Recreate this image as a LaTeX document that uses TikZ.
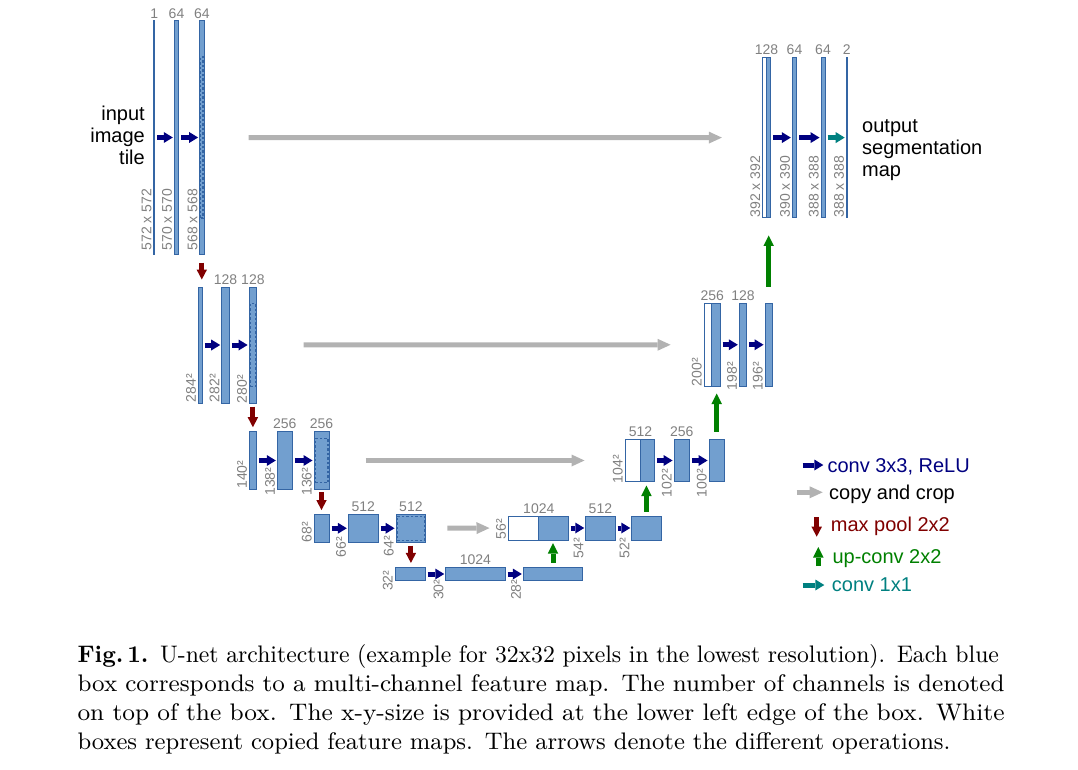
\documentclass[tikz,border=0pt]{standalone}
\usepackage{graphicx}
\usepackage{fontspec}
\newfontfamily\diagfont{Liberation Sans}
\usetikzlibrary{arrows.meta}
\definecolor{ufill}{RGB}{114,159,207}
\definecolor{uedge}{RGB}{52,101,164}
\definecolor{unavy}{RGB}{0,0,128}
\definecolor{ugrey}{RGB}{178,178,178}
\definecolor{ured}{RGB}{128,0,0}
\definecolor{ugreen}{RGB}{0,128,0}
\definecolor{uteal}{RGB}{0,128,128}
\definecolor{ulabel}{RGB}{128,128,128}

\begin{document}
\begin{tikzpicture}[x=1pt,y=-1pt,
  fmap/.style={rectangle,draw=uedge,fill=ufill,line width=1pt,inner sep=0pt},
  copied/.style={fmap,fill=white},
  cropbox/.style={rectangle,draw=uedge,line width=1.2pt,dash pattern=on 2.5pt off 2pt,inner sep=0pt},
  chan/.style={text=ulabel,font=\diagfont\fontsize{14}{14}\selectfont,anchor=south,inner sep=2pt},
  xysize/.style={rotate=90,anchor=south west,text=ulabel,font=\diagfont\fontsize{14}{14}\selectfont,inner xsep=0pt,inner ysep=1.5pt},
  bigtext/.style={font=\diagfont\fontsize{20}{22}\selectfont,inner sep=0pt},
  convarrow/.style={unavy,line width=5pt,-{Triangle[width=11pt,length=9pt,line width=0pt]},shorten <=2pt,shorten >=1pt},
  outarrow/.style={convarrow,uteal},
  copyarrow/.style={ugrey,line width=5pt,-{Triangle[width=12pt,length=13pt,line width=0pt]}},
  poolarrow/.style={ured,line width=5pt,-{Triangle[width=10.5pt,length=10pt,line width=0pt]},shorten <=3pt,shorten >=4pt},
  uparrow/.style={ugreen,line width=5pt,-{Triangle[width=10.5pt,length=10.5pt,line width=0pt]}},
  figcaption/.style={anchor=north west,inner sep=0pt,scale=2.66,transform shape,text width=348.5pt,font=\fontsize{9}{10.9}\selectfont}]
  \useasboundingbox (0,0) rectangle (1078,770);
  % contracting path
  \node[fmap,minimum width=1,minimum height=233] (a1) at (154.2,137.5) {};
  \node[fmap,minimum width=4.4,minimum height=233] (a2) at (176.5,137.5) {};
  \node[fmap,minimum width=4.4,minimum height=233] (a3) at (201.8,137.5) {};
  \node[cropbox,minimum width=2.4,minimum height=161] (a3c) at (a3) {};
  \node[fmap,minimum width=4,minimum height=116] (b1) at (200.3,345) {};
  \node[fmap,minimum width=7.6,minimum height=116] (b2) at (225.5,345) {};
  \node[fmap,minimum width=7.6,minimum height=116] (b3) at (252.9,345) {};
  \node[cropbox,minimum width=5.6,minimum height=83] (b3c) at (b3) {};
  \node[fmap,minimum width=7.4,minimum height=57.6] (c1) at (253,460.5) {};
  \node[fmap,minimum width=15,minimum height=57.6] (c2) at (284.8,460.5) {};
  \node[fmap,minimum width=15,minimum height=57.6] (c3) at (321.5,460.5) {};
  \node[cropbox,minimum width=13,minimum height=44] (c3c) at (c3) {};
  \node[fmap,minimum width=15,minimum height=27.5] (d1) at (321.5,528.25) {};
  \node[fmap,minimum width=30,minimum height=27.5] (d2) at (363.3,528.25) {};
  \node[fmap,minimum width=29.7,minimum height=27.5] (d3) at (410.9,528.25) {};
  \node[cropbox,minimum width=27.7,minimum height=24] (d3c) at (d3) {};
  % bottom
  \node[fmap,minimum width=30,minimum height=13.2] (e1) at (410,574) {};
  \node[fmap,minimum width=59.3,minimum height=13.2] (e2) at (475.4,574) {};
  \node[fmap,minimum width=59.4,minimum height=13.2] (e3) at (553,574) {};
  % expansive path
  \node[copied,minimum width=30,minimum height=24] (f0) at (523.3,528) {};
  \node[fmap,minimum width=30,minimum height=24] (f1) at (553.3,528) {};
  \node[fmap,minimum width=29.3,minimum height=24] (f2) at (600.4,528) {};
  \node[fmap,minimum width=29.3,minimum height=24] (f3) at (646.4,528) {};
  \node[copied,minimum width=15,minimum height=42.4] (g0) at (632.5,460.5) {};
  \node[fmap,minimum width=14.3,minimum height=42.4] (g1) at (647.15,460.5) {};
  \node[fmap,minimum width=15.3,minimum height=42.4] (g2) at (681.7,460.5) {};
  \node[fmap,minimum width=15.3,minimum height=42.4] (g3) at (716.7,460.5) {};
  \node[copied,minimum width=7.7,minimum height=82.5] (h0) at (707.9,344.75) {};
  \node[fmap,minimum width=8.3,minimum height=82.5] (h1) at (715.9,344.75) {};
  \node[fmap,minimum width=7.4,minimum height=82.5] (h2) at (743,344.75) {};
  \node[fmap,minimum width=7.3,minimum height=82.5] (h3) at (768.7,344.75) {};
  \node[copied,minimum width=3.7,minimum height=160.7] (i0) at (764.2,137.6) {};
  \node[fmap,minimum width=4.7,minimum height=160.7] (i1) at (768.4,137.6) {};
  \node[fmap,minimum width=4.4,minimum height=160.7] (i2) at (794.5,137.6) {};
  \node[fmap,minimum width=4,minimum height=160.7] (i3) at (823,137.6) {};
  \node[fmap,minimum width=1,minimum height=160.7] (i4) at (846.7,137.6) {};
  % channels
  \node[chan] (a1ch) at (a1.north) {1}; \node[chan] (a2ch) at (a2.north) {64}; \node[chan] (a3ch) at (a3.north) {64};
  \node[chan] (b2ch) at (b2.north) {128}; \node[chan] (b3ch) at (b3.north) {128};
  \node[chan] (c2ch) at (c2.north) {256}; \node[chan] (c3ch) at (c3.north) {256};
  \node[chan] (d2ch) at (d2.north) {512}; \node[chan] (d3ch) at (d3.north) {512};
  \node[chan] (e2ch) at (e2.north) {1024};
  \node[chan] (f1ch) at (f0.north east) {1024}; \node[chan] (f2ch) at (f2.north) {512};
  \node[chan] (g1ch) at (g0.north east) {512}; \node[chan] (g2ch) at (g2.north) {256};
  \node[chan] (h1ch) at (h0.north east) {256}; \node[chan] (h2ch) at (h2.north) {128};
  \node[chan] (i1ch) at (i0.north east) {128}; \node[chan] (i2ch) at (i2.north) {64};
  \node[chan] (i3ch) at (i3.north) {64}; \node[chan] (i4ch) at (i4.north) {2};
  % x-y-sizes
  \node[xysize] (a1xy) at ([yshift=4pt]a1.south west) {572 x 572};
  \node[xysize] (a2xy) at ([yshift=4pt]a2.south west) {570 x 570};
  \node[xysize] (a3xy) at ([yshift=4pt]a3.south west) {568 x 568};
  \node[xysize] (b1xy) at ([yshift=1pt]b1.south west) {284²};
  \node[xysize] (b2xy) at ([yshift=1pt]b2.south west) {282²};
  \node[xysize] (b3xy) at (b3.south west) {280²};
  \node[xysize] (c1xy) at ([yshift=1pt]c1.south west) {140²};
  \node[xysize] (c2xy) at ([yshift=-6pt]c2.south west) {138²};
  \node[xysize] (c3xy) at ([yshift=-6pt]c3.south west) {136²};
  \node[xysize] (d1xy) at (d1.south west) {68²};
  \node[xysize] (d2xy) at ([yshift=-15pt]d2.south west) {66²};
  \node[xysize] (d3xy) at ([yshift=-14pt]d3.south west) {64²};
  \node[xysize] (e1xy) at ([yshift=-10pt]e1.south west) {32²};
  \node[xysize] (e2xy) at ([yshift=-19pt]e2.south west) {30²};
  \node[xysize] (e3xy) at ([yshift=-19pt]e3.south west) {28²};
  \node[xysize] (f0xy) at ([yshift=1pt]f0.south west) {56²};
  \node[xysize] (f2xy) at ([yshift=-18pt]f2.south west) {54²};
  \node[xysize] (f3xy) at ([yshift=-18pt]f3.south west) {52²};
  \node[xysize] (g0xy) at ([yshift=-1pt]g0.south west) {104²};
  \node[xysize] (g2xy) at ([yshift=-15pt]g2.south west) {102²};
  \node[xysize] (g3xy) at ([yshift=-15pt]g3.south west) {100²};
  \node[xysize] (h0xy) at (h0.south west) {200²};
  \node[xysize] (h2xy) at ([yshift=-4pt]h2.south west) {198²};
  \node[xysize] (h3xy) at ([yshift=-4pt]h3.south west) {196²};
  \node[xysize] (i0xy) at ([yshift=1pt]i0.south west) {392 x 392};
  \node[xysize] (i2xy) at ([yshift=1pt]i2.south west) {390 x 390};
  \node[xysize] (i3xy) at ([yshift=1pt]i3.south west) {388 x 388};
  \node[xysize] (i4xy) at ([yshift=1pt]i4.south west) {388 x 388};
  % operations
  \draw[convarrow] (a1) -- (a2); \draw[convarrow] (a2) -- (a3);
  \draw[convarrow] (b1) -- (b2); \draw[convarrow] (b2) -- (b3);
  \draw[convarrow] (c1) -- (c2); \draw[convarrow] (c2) -- (c3);
  \draw[convarrow] (d1) -- (d2); \draw[convarrow] (d2) -- (d3);
  \draw[convarrow] (e1) -- (e2); \draw[convarrow] (e2) -- (e3);
  \draw[convarrow] (f1) -- (f2); \draw[convarrow] (f2) -- (f3);
  \draw[convarrow] (g1) -- (g2); \draw[convarrow] (g2) -- (g3);
  \draw[convarrow] (h1) -- (h2); \draw[convarrow] (h2) -- (h3);
  \draw[convarrow] (i1) -- (i2); \draw[convarrow] (i2) -- (i3);
  \draw[outarrow] (i3) -- (i4);
  \draw[poolarrow,shorten <=8pt,shorten >=7pt] (a3.south) -- (a3.south |- b1.north);
  \draw[poolarrow] (b3.south) -- (b3.south |- c1.north);
  \draw[poolarrow,shorten <=2.5pt] (c3.south) -- (c3.south |- d1.north);
  \draw[poolarrow] (d3.south) -- (d3.south |- e1.north);
  \draw[uparrow,shorten <=4pt,shorten >=2.7pt] (e3.north) -- (e3.north |- f1.south);
  \draw[uparrow,shorten <=4pt,shorten >=3.3pt] (f3.north) -- (f3.north |- g1.south);
  \draw[uparrow,shorten <=7pt,shorten >=7pt] (g3.north) -- (g3.north |- h1.south);
  \draw[uparrow,shorten <=16.5pt,shorten >=17pt] (h3.north) -- (h3.north |- i1.south);
  \draw[copyarrow,shorten <=44pt,shorten >=40pt] (a3) -- (i0);
  \draw[copyarrow,shorten <=46.3pt,shorten >=33pt] (b3) -- (h0);
  \draw[copyarrow,shorten <=36pt,shorten >=40pt] (c3) -- (g0);
  \draw[copyarrow,shorten <=21pt,shorten >=18.3pt] (d3) -- (f0);
  % texts
  \node[bigtext,align=right,anchor=east] (intile) at (145,135.2) {input\\image\\tile};
  \node[bigtext,align=left,anchor=west] (outmap) at (862,150) {output\\segmentation\\map};
  % legend
  \node[bigtext,anchor=west,text=unavy] (lconv) at (827.3,467) {conv 3x3, ReLU};
  \node[bigtext,anchor=west] (lcopy) at (829,494.3) {copy and crop};
  \node[bigtext,anchor=west,text=ured] (lpool) at (830.7,526) {max pool 2x2};
  \node[bigtext,anchor=west,text=ugreen] (lup) at (832.3,558.7) {up-conv 2x2};
  \node[bigtext,anchor=west,text=uteal] (lout) at (831.7,585) {conv 1x1};
  \coordinate (kconv) at (802.7,465); \coordinate (kcopy) at (796.7,492.3);
  \coordinate (kpool) at (816.7,517); \coordinate (kpoolend) at (816.7,536.7);
  \coordinate (kup) at (818.3,566); \coordinate (kupend) at (818.3,547);
  \coordinate (kout) at (802.7,585);
  \draw[convarrow,shorten <=0pt,shorten >=4pt] (kconv) -- (kconv -| lconv.west);
  \draw[copyarrow,shorten >=6.3pt] (kcopy) -- (kcopy -| lcopy.west);
  \draw[poolarrow,shorten <=0pt,shorten >=0pt] (kpool) -- (kpoolend);
  \draw[uparrow] (kup) -- (kupend);
  \draw[outarrow,shorten <=0pt,shorten >=7.4pt] (kout) -- (kout -| lout.west);
  % caption
  \coordinate (capnw) at (77,644);
  \node[figcaption] (cap) at (capnw) {%
    \noindent\resizebox{348.5pt}{\height}{\hbox to 362pt{\textbf{Fig.\thinspace 1.} U-net architecture (example for 32x32 pixels in the lowest resolution). Each blue}}\par
    \noindent\resizebox{348.5pt}{\height}{box corresponds to a multi-channel feature map. The number of channels is denoted}\par
    \noindent\resizebox{348.5pt}{\height}{on top of the box. The x-y-size is provided at the lower left edge of the box. White}\par
    \noindent boxes represent copied feature maps. The arrows denote the different operations.\par};
\end{tikzpicture}
\end{document}
